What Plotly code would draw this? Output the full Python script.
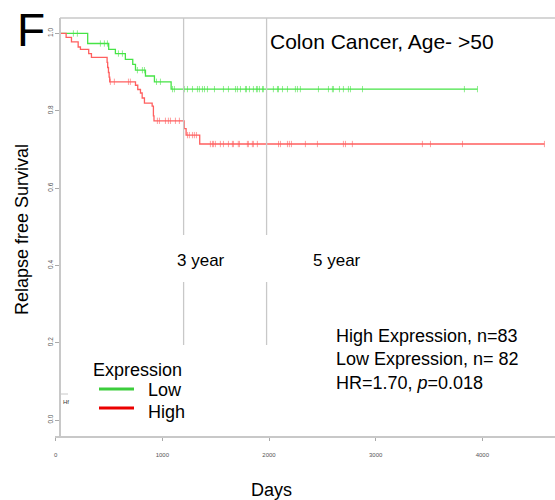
import plotly.graph_objects as go

# ---------------- data ----------------
# Low expression group (green)
low_event_days = [250, 435, 494, 582, 647, 671, 759, 838, 985]
low_event_surv = [0.974, 0.959, 0.948, 0.933, 0.920, 0.905, 0.890, 0.875, 0.856]
low_last_day = 3684
low_censor_days = [124, 159, 362, 397, 424, 521, 556, 688, 732, 750, 856, 891,
                   997, 1014, 1102, 1129, 1173, 1217, 1234, 1261, 1279, 1305, 1367,
                   1446, 1490, 1552, 1569, 1596, 1640, 1649, 1675, 1710, 1737, 1745,
                   1763, 1790, 1798, 1886, 1922, 1931, 1966, 2010, 2080, 2098, 2124,
                   2283, 2371, 2406, 2415, 2468, 2503, 2547, 2565, 2671, 3569, 3684]

# High expression group (red)
high_event_days = [60, 107, 166, 186, 259, 283, 421, 426, 433, 439, 444,
                   671, 691, 715, 730, 750, 818, 829, 834, 1100, 1117, 1237]
high_event_surv = [0.990, 0.978, 0.965, 0.959, 0.948, 0.938, 0.925, 0.912, 0.899, 0.887, 0.875,
                   0.866, 0.855, 0.846, 0.833, 0.820, 0.812, 0.787, 0.774, 0.754, 0.737, 0.714]
high_last_day = 4274
high_censor_days = [450, 485, 609, 626, 864, 882, 935, 961, 979, 1023, 1058,
                    1129, 1146, 1173, 1190, 1208, 1331, 1349, 1358, 1375, 1419, 1446,
                    1490, 1525, 1534, 1577, 1587, 1657, 1666, 1701, 1710, 1745, 1931,
                    1948, 2010, 2027, 2045, 2168, 2274, 2503, 2521, 2582, 3199, 3270,
                    3552, 4274]

milestone_days = [1095, 1826]
milestone_labels = ["3 year", "5 year"]
x_tick_vals = [0, 1000, 2000, 3000, 4000]
y_tick_vals = [0.0, 0.2, 0.4, 0.6, 0.8, 1.0]

stats_lines = ["High Expression, n=83", "Low Expression, n= 82", "HR=1.70, <i>p</i>=0.018"]
legend_title = "Expression"
legend_names = ["Low", "High"]

# ---------------- styling ----------------
GREEN = "rgb(70,228,70)"
RED = "rgb(255,95,95)"
LEG_GREEN = "rgb(60,205,60)"
LEG_RED = "rgb(235,0,0)"
GRAY = "#c8c8c8"
FONT = "Liberation Sans, Arial, sans-serif"

W, H = 555, 500
ML, MR, MT, MB = 55, 0, 18, 64
PW, PH = W - ML - MR, H - MT - MB


def px(xp):
    return (xp - ML) / PW


def py(yp):
    return (H - MB - yp) / PH


def step_value(days, surv, t):
    s = 1.0
    for d, v in zip(days, surv):
        if d <= t:
            s = v
    return s


def km_xy(days, surv, last):
    xs = [0] + list(days) + [last]
    ys = [1.0] + list(surv) + [surv[-1]]
    return xs, ys


fig = go.Figure()

for days, surv, last, cens, col in [
    (low_event_days, low_event_surv, low_last_day, low_censor_days, GREEN),
    (high_event_days, high_event_surv, high_last_day, high_censor_days, RED),
]:
    xs, ys = km_xy(days, surv, last)
    fig.add_trace(go.Scatter(x=xs, y=ys, mode="lines", line=dict(color=col, width=1.3, shape="hv"),
                             showlegend=False, hoverinfo="skip"))
    fig.add_trace(go.Scatter(x=cens, y=[step_value(days, surv, c) for c in cens], mode="markers",
                             marker=dict(symbol="line-ns", size=4.5, line=dict(color=col, width=1)),
                             opacity=0.6, showlegend=False, hoverinfo="skip"))

# invisible trace for the label axis
fig.add_trace(go.Scatter(x=[], y=[], xaxis="x2", yaxis="y", showlegend=False))

shapes = []
for d in milestone_days:
    shapes.append(dict(type="line", xref="x", yref="y", x0=d, x1=d, y0=0.194, y1=0.357,
                       line=dict(color=GRAY, width=1.3)))
    shapes.append(dict(type="line", xref="x", yref="paper", x0=d, x1=d, y0=py(235), y1=1,
                       line=dict(color=GRAY, width=1.3)))
# top frame line
shapes.append(dict(type="line", xref="paper", yref="paper", x0=px(60), x1=1, y0=1, y1=1,
                   line=dict(color=GRAY, width=1.5)))
# little mark near Hf
shapes.append(dict(type="line", xref="paper", yref="paper", x0=px(60), x1=px(68), y0=py(394), y1=py(394),
                   line=dict(color=GRAY, width=1)))
# legend samples
shapes.append(dict(type="line", xref="paper", yref="paper", x0=px(99), x1=px(134), y0=py(389), y1=py(389),
                   line=dict(color=LEG_GREEN, width=3)))
shapes.append(dict(type="line", xref="paper", yref="paper", x0=px(99), x1=px(134), y0=py(408), y1=py(408),
                   line=dict(color=LEG_RED, width=3)))

ann = []


def add_text(text, xp, yp, size, xanchor="center", angle=0, color="black", family=FONT):
    ann.append(dict(text=text, xref="paper", yref="paper", x=px(xp), y=py(yp), xanchor=xanchor,
                    yanchor="middle", showarrow=False, textangle=angle,
                    font=dict(size=size, color=color, family=family), align="left"))


add_text("F", 31, 30, 46)
add_text("Colon Cancer, Age- >50", 382, 42, 21)
add_text(milestone_labels[0], 201, 260, 17)
add_text(milestone_labels[1], 337, 260, 17)
add_text("<br>".join(stats_lines), 334, 359, 18, xanchor="left")
add_text(legend_title, 91, 370, 18, xanchor="left")
add_text(legend_names[0], 146, 390, 18, xanchor="left")
add_text(legend_names[1], 146, 412, 18, xanchor="left")
add_text("Relapse free Survival", 22, 230, 18, angle=-90)
add_text("Days", 271, 490, 18)
add_text("Hf", 61, 402, 6, xanchor="left", color="#333")

fig.update_layout(
    width=W, height=H,
    margin=dict(l=ML, r=MR, t=MT, b=MB, pad=0),
    paper_bgcolor="white", plot_bgcolor="white",
    showlegend=False,
    shapes=shapes, annotations=ann,
    xaxis=dict(range=[-38, 4367], visible=False, showgrid=False, zeroline=False),
    xaxis2=dict(overlaying="x", anchor="y", side="bottom", range=[-6.6, 4681],
                tickvals=x_tick_vals, ticktext=[str(v) for v in x_tick_vals],
                showline=True, linecolor=GRAY, linewidth=1.5,
                ticks="outside", ticklen=3, tickcolor="#aaa",
                tickfont=dict(size=6, color="#555", family="Liberation Sans Narrow, Arial Narrow, sans-serif"),
                ticklabelstandoff=9, showgrid=False, zeroline=False),
    yaxis=dict(range=[-0.0414, 1.040], anchor="free", position=px(60),
               tickvals=y_tick_vals, ticktext=[f"{v:.1f}" for v in y_tick_vals],
               tickangle=-90, showline=True, linecolor=GRAY, linewidth=1.5,
               ticks="outside", ticklen=4, tickcolor="#aaa",
               tickfont=dict(size=6.5, color="#555", family=FONT),
               showgrid=False, zeroline=False),
)

fig.write_html("out.html", config={"displayModeBar": False},
               post_script="document.body.style.margin='0';document.body.style.overflow='hidden';")
